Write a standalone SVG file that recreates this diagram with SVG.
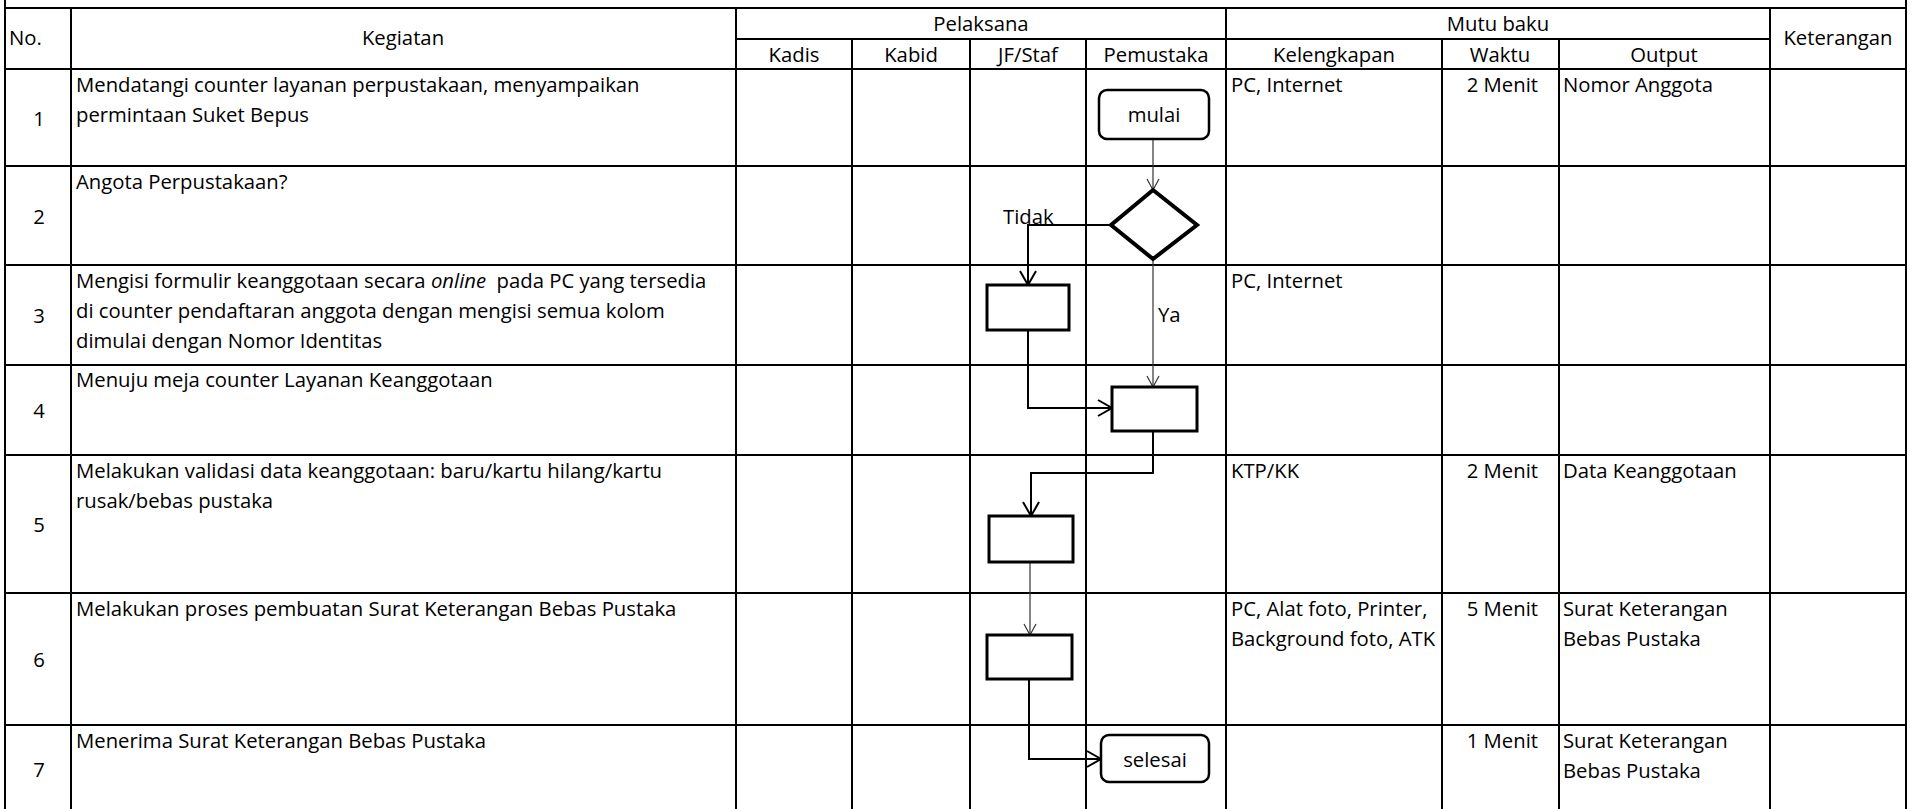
<svg xmlns="http://www.w3.org/2000/svg" width="1915" height="809" viewBox="0 0 1915 809">
<style>
  .t { font-family: "Open Sans", "Noto Sans", "Liberation Sans", sans-serif; font-size: 20.3px; fill: #000; }
  .c { text-anchor: middle; }
  .r { text-anchor: end; }
  .grid line { stroke: #000; stroke-width: 2; }
  .box { fill: #fff; stroke: #000; stroke-width: 3; }
  .term { fill: #fff; stroke: #000; stroke-width: 2.5; }
  .dia { fill: #fff; stroke: #000; stroke-width: 4; stroke-linejoin: miter; }
  .thin { fill: none; stroke: #333; stroke-width: 1.2; marker-end: url(#arrThin); }
  .thick { fill: none; stroke: #000; stroke-width: 2; marker-end: url(#arrThick); }
</style>
<defs>
  <marker id="arrThin" markerUnits="userSpaceOnUse" markerWidth="14" markerHeight="14" viewBox="0 0 14 14" refX="12" refY="7" orient="auto">
    <path d="M1,1 L12,7 L1,13" fill="none" stroke="#333" stroke-width="1.2"/>
  </marker>
  <marker id="arrThick" markerUnits="userSpaceOnUse" markerWidth="18" markerHeight="18" viewBox="0 0 18 18" refX="15" refY="9" orient="auto">
    <path d="M1,1 L15,9 L1,17" fill="none" stroke="#000" stroke-width="2"/>
  </marker>
</defs>
<rect x="0" y="0" width="1915" height="809" fill="#fff"/>

<g id="table" class="grid">
  <line x1="5" y1="0" x2="5" y2="809"/>
  <line x1="1906" y1="0" x2="1906" y2="809"/>
  <line x1="71" y1="8" x2="71" y2="809"/>
  <line x1="736" y1="8" x2="736" y2="809"/>
  <line x1="852" y1="39" x2="852" y2="809"/>
  <line x1="970" y1="39" x2="970" y2="809"/>
  <line x1="1086" y1="39" x2="1086" y2="809"/>
  <line x1="1226" y1="8" x2="1226" y2="809"/>
  <line x1="1442" y1="39" x2="1442" y2="809"/>
  <line x1="1559" y1="39" x2="1559" y2="809"/>
  <line x1="1770" y1="8" x2="1770" y2="809"/>
  <line x1="5" y1="8" x2="1906" y2="8"/>
  <line x1="736" y1="39" x2="1770" y2="39"/>
  <line x1="5" y1="69" x2="1906" y2="69"/>
  <line x1="5" y1="166" x2="1906" y2="166"/>
  <line x1="5" y1="265" x2="1906" y2="265"/>
  <line x1="5" y1="365" x2="1906" y2="365"/>
  <line x1="5" y1="455" x2="1906" y2="455"/>
  <line x1="5" y1="593" x2="1906" y2="593"/>
  <line x1="5" y1="725" x2="1906" y2="725"/>
</g>

<g id="header" class="t">
  <text x="9" y="45">No.</text>
  <text class="c" x="403" y="45">Kegiatan</text>
  <text class="c" x="981" y="31">Pelaksana</text>
  <text class="c" x="1498" y="31">Mutu baku</text>
  <text class="c" x="1838" y="45">Keterangan</text>
  <text class="c" x="794" y="62">Kadis</text>
  <text class="c" x="911" y="62">Kabid</text>
  <text class="c" x="1028" y="62">JF/Staf</text>
  <text class="c" x="1156" y="62">Pemustaka</text>
  <text class="c" x="1334" y="62">Kelengkapan</text>
  <text class="c" x="1500" y="62">Waktu</text>
  <text class="c" x="1664" y="62">Output</text>
</g>

<g id="numbers" class="t c">
  <text class="c" x="39" y="126">1</text>
  <text class="c" x="39" y="224">2</text>
  <text class="c" x="39" y="323">3</text>
  <text class="c" x="39" y="418">4</text>
  <text class="c" x="39" y="532">5</text>
  <text class="c" x="39" y="667">6</text>
  <text class="c" x="39" y="777">7</text>
</g>

<g id="kegiatan" class="t">
  <text x="76" y="92">Mendatangi counter layanan perpustakaan, menyampaikan</text>
  <text x="76" y="122">permintaan Suket Bepus</text>
  <text x="76" y="189">Angota Perpustakaan?</text>
  <text x="76" y="288" xml:space="preserve">Mengisi formulir keanggotaan secara <tspan font-style="italic">online</tspan>  pada PC yang tersedia</text>
  <text x="76" y="318">di counter pendaftaran anggota dengan mengisi semua kolom</text>
  <text x="76" y="348">dimulai dengan Nomor Identitas</text>
  <text x="76" y="387">Menuju meja counter Layanan Keanggotaan</text>
  <text x="76" y="478">Melakukan validasi data keanggotaan: baru/kartu hilang/kartu</text>
  <text x="76" y="508">rusak/bebas pustaka</text>
  <text x="76" y="616">Melakukan proses pembuatan Surat Keterangan Bebas Pustaka</text>
  <text x="76" y="748">Menerima Surat Keterangan Bebas Pustaka</text>
</g>

<g id="mutubaku" class="t">
  <text x="1231" y="92">PC, Internet</text>
  <text x="1231" y="288">PC, Internet</text>
  <text x="1231" y="478">KTP/KK</text>
  <text x="1231" y="616">PC, Alat foto, Printer,</text>
  <text x="1231" y="646">Background foto, ATK</text>
  <text class="r" x="1538" y="92">2 Menit</text>
  <text class="r" x="1538" y="478">2 Menit</text>
  <text class="r" x="1538" y="616">5 Menit</text>
  <text class="r" x="1538" y="748">1 Menit</text>
  <text x="1563" y="92">Nomor Anggota</text>
  <text x="1563" y="478">Data Keanggotaan</text>
  <text x="1563" y="616">Surat Keterangan</text>
  <text x="1563" y="646">Bebas Pustaka</text>
  <text x="1563" y="748">Surat Keterangan</text>
  <text x="1563" y="778">Bebas Pustaka</text>
</g>

<g id="connectors">
  <path class="thin" d="M1153,139 L1153,190"/>
  <path class="thick" d="M1111,225 L1028,225 L1028,285"/>
  <path class="thin" d="M1153,259 L1153,387"/>
  <path class="thick" d="M1028,330 L1028,408 L1112,408"/>
  <path class="thick" d="M1153,431 L1153,473 L1031,473 L1031,516"/>
  <path class="thin" d="M1030,562 L1030,635"/>
  <path class="thick" d="M1029,679 L1029,759 L1101,759"/>
  <text class="t" x="1003" y="224">Tidak</text>
  <text class="t" x="1158" y="322">Ya</text>
</g>

<g id="mulai">
  <rect class="term" x="1099" y="90" width="110" height="49" rx="8"/>
  <text class="t c" x="1154" y="122">mulai</text>
</g>
<g id="decision">
  <polygon class="dia" points="1153,190 1197,225 1153,259 1111,225"/>
</g>
<g id="proc1"><rect class="box" x="987" y="285" width="82" height="45"/></g>
<g id="proc2"><rect class="box" x="1112" y="387" width="85" height="44"/></g>
<g id="proc3"><rect class="box" x="989" y="516" width="84" height="46"/></g>
<g id="proc4"><rect class="box" x="987" y="635" width="85" height="44"/></g>
<g id="selesai">
  <rect class="term" x="1101" y="735" width="108" height="47" rx="8"/>
  <text class="t c" x="1155" y="767">selesai</text>
</g>
</svg>
